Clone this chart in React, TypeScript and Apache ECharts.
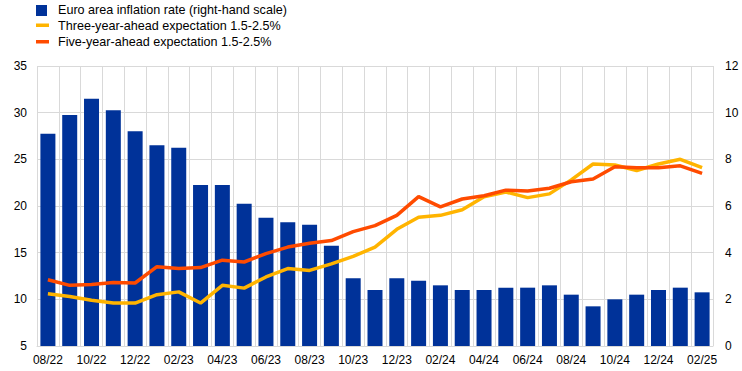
import React, { useEffect, useRef } from "react";
import * as echarts from "echarts";

const months = [
  "08/22","09/22","10/22","11/22","12/22","01/23","02/23","03/23","04/23","05/23","06/23","07/23",
  "08/23","09/23","10/23","11/23","12/23","01/24","02/24","03/24","04/24","05/24","06/24","07/24",
  "08/24","09/24","10/24","11/24","12/24","01/25","02/25",
];
const inflation = [
  9.1, 9.9, 10.6, 10.1, 9.2, 8.6, 8.5, 6.9, 6.9, 6.1, 5.5, 5.3,
  5.2, 4.3, 2.9, 2.4, 2.9, 2.8, 2.6, 2.4, 2.4, 2.5, 2.5, 2.6,
  2.2, 1.7, 2.0, 2.2, 2.4, 2.5, 2.3,
];
const threeYear = [
  10.6, 10.3, 9.9, 9.6, 9.6, 10.5, 10.8, 9.6, 11.5, 11.2, 12.4, 13.3,
  13.1, 13.8, 14.6, 15.6, 17.5, 18.8, 19.0, 19.6, 21.0, 21.5, 20.9, 21.3,
  22.8, 24.5, 24.4, 23.8, 24.5, 25.0, 24.1,
];
const fiveYear = [
  12.1, 11.5, 11.6, 11.8, 11.75, 13.5, 13.3, 13.4, 14.2, 14.0, 14.9, 15.6,
  16.0, 16.3, 17.25, 17.9, 19.0, 21.0, 19.9, 20.75, 21.1, 21.7, 21.6, 21.9,
  22.6, 22.9, 24.2, 24.1, 24.1, 24.3, 23.5,
];
const legendNames = [
  "Euro area inflation rate (right-hand scale)",
  "Three-year-ahead expectation 1.5-2.5%",
  "Five-year-ahead expectation 1.5-2.5%",
];

const BLUE = "#003299";
const YELLOW = "#ffb400";
const ORANGE = "#ff4b00";
const FONT = "Liberation Sans, Arial, sans-serif";

export default function App() {
  const ref = useRef<HTMLDivElement>(null);
  useEffect(() => {
    if (!ref.current) return;
    const chart = echarts.init(ref.current, undefined, { renderer: "svg" });
    chart.setOption({
      animation: false,
      textStyle: { fontFamily: FONT },
      grid: { left: 37, right: 29, top: 66, bottom: 25 },
      graphic: [
        { type: "rect", shape: { x: 36, y: 5, width: 11, height: 11 }, style: { fill: BLUE } },
        { type: "text", x: 58, y: 10, style: { text: legendNames[0], fill: "#000", font: `12.6px ${FONT}`, verticalAlign: "middle" } },
        { type: "rect", shape: { x: 36, y: 23.5, width: 13, height: 3.5 }, style: { fill: YELLOW } },
        { type: "text", x: 58, y: 26, style: { text: legendNames[1], fill: "#000", font: `12.6px ${FONT}`, verticalAlign: "middle" } },
        { type: "rect", shape: { x: 36, y: 40, width: 13, height: 3.5 }, style: { fill: ORANGE } },
        { type: "text", x: 58, y: 42, style: { text: legendNames[2], fill: "#000", font: `12.6px ${FONT}`, verticalAlign: "middle" } },
      ],
      xAxis: {
        type: "category",
        data: months,
        boundaryGap: true,
        axisLine: { show: true, lineStyle: { color: "#d9d9d9" } },
        axisTick: { show: false },
        axisLabel: { interval: 1, color: "#000", fontSize: 12, fontFamily: FONT, margin: 8 },
        splitLine: { show: true, interval: 0, lineStyle: { color: "#d9d9d9", width: 1 } },
      },
      yAxis: [
        {
          type: "value",
          min: 5,
          max: 35,
          interval: 5,
          position: "left",
          axisLine: { show: false },
          axisTick: { show: false },
          axisLabel: { color: "#000", fontSize: 12, fontFamily: FONT, margin: 10 },
          splitLine: { show: true, lineStyle: { color: "#d9d9d9", width: 1 } },
        },
        {
          type: "value",
          min: 0,
          max: 12,
          interval: 2,
          position: "right",
          axisLine: { show: false },
          axisTick: { show: false },
          axisLabel: { color: "#000", fontSize: 12, fontFamily: FONT, margin: 12 },
          splitLine: { show: false },
        },
      ],
      series: [
        {
          name: legendNames[0],
          type: "bar",
          yAxisIndex: 1,
          data: inflation,
          barWidth: 15,
          itemStyle: { color: BLUE },
        },
        {
          name: legendNames[1],
          type: "line",
          yAxisIndex: 0,
          data: threeYear,
          symbol: "none",
          lineStyle: { color: YELLOW, width: 3.5 },
          z: 3,
        },
        {
          name: legendNames[2],
          type: "line",
          yAxisIndex: 0,
          data: fiveYear,
          symbol: "none",
          lineStyle: { color: ORANGE, width: 3.5 },
          z: 4,
        },
      ],
    });
    return () => chart.dispose();
  }, []);
  return <div ref={ref} style={{ width: 742, height: 371, position: "absolute", left: 0, top: 0 }} />;
}
